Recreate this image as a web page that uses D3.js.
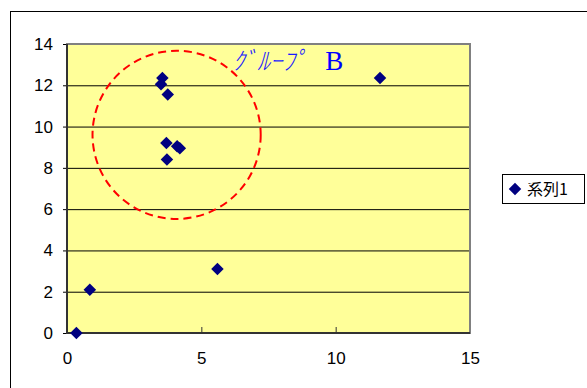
<!DOCTYPE html>
<html>
<head>
<meta charset="utf-8">
<script src="https://cdn.jsdelivr.net/npm/d3@7"></script>
<style>
  html, body { margin: 0; padding: 0; background: #fff; overflow: hidden; }
  svg { display: block; }
</style>
</head>
<body>
<svg id="chart" width="587" height="388"></svg>
<script>
// series values
const xValues = [0.35, 0.85, 5.6, 11.65, 3.55, 3.5, 3.75, 3.7, 4.1, 4.2, 3.72];
const yValues = [0.0, 2.1, 3.1, 12.35, 12.35, 12.05, 11.55, 9.2, 9.05, 8.95, 8.4];
const seriesName = "系列1";

const xTicks = [0, 5, 10, 15];
const yTicks = [0, 2, 4, 6, 8, 10, 12, 14];

// annotation: dashed circle round the cluster and its label
const groupCircle = { cx: 4.08, cy: 9.6, r: 3.13 };
const groupLabel = { kana: "ｸﾞﾙｰﾌﾟ", letter: "B", x: 6.15, y: 12.75 };

const margin = { left: 67, top: 44, right: 117, bottom: 55 };
const width = 587 - margin.left - margin.right;
const height = 388 - margin.top - margin.bottom;

const svgEl = d3.select("#chart");

// outer chart frame
svgEl.append("rect")
  .attr("x", 10.5).attr("y", 11.5)
  .attr("width", 620).attr("height", 420)
  .attr("fill", "#fff")
  .attr("stroke", "#000")
  .attr("stroke-width", 1);

const svg = svgEl.append("g")
  .attr("transform", `translate(${margin.left},${margin.top})`);

const xScale = d3.scaleLinear().domain([0, 15]).range([0, width]);
const yScale = d3.scaleLinear().domain([0, 14]).range([height, 0]);

// plot background
svg.append("rect")
  .attr("width", width).attr("height", height)
  .attr("fill", "#ffff99");

// Y grid lines with labels
const yAxis = d3.axisLeft(yScale)
  .tickValues(yTicks)
  .tickSize(-width)
  .tickFormat(d3.format("d"));
const yAxisGroup = svg.append("g").call(yAxis);
yAxisGroup.select(".domain").remove();
yAxisGroup.selectAll("line")
  .attr("stroke", "#000")
  .attr("x1", -4)
  .attr("stroke-width", 1);
yAxisGroup.selectAll("text")
  .attr("x", -14)
  .attr("fill", "#000")
  .attr("font-family", "'Liberation Sans', Arial, sans-serif")
  .attr("font-size", "17px");

// X axis with inward ticks
const xAxis = d3.axisBottom(xScale)
  .tickValues(xTicks)
  .tickSize(-6)
  .tickFormat(d3.format("d"));
const xAxisGroup = svg.append("g")
  .attr("transform", `translate(0,${height})`)
  .call(xAxis);
xAxisGroup.select(".domain").remove();
xAxisGroup.selectAll("line").attr("stroke", "#333");
xAxisGroup.selectAll("text")
  .attr("y", 19)
  .attr("fill", "#000")
  .attr("font-family", "'Liberation Sans', Arial, sans-serif")
  .attr("font-size", "17px");

// plot border
svg.append("rect")
  .attr("width", width).attr("height", height)
  .attr("fill", "none")
  .attr("stroke", "#808080")
  .attr("stroke-width", 2);
svg.append("path")
  .attr("d", `M0,0V${height}H${width}`)
  .attr("fill", "none")
  .attr("stroke", "#333")
  .attr("stroke-width", 2);

// Draw the points as diamonds
const points = xValues.map((x, i) => ({ x, y: yValues[i] }));
const diamond = d3.symbol().type(d3.symbolDiamond2).size(100);
svg.selectAll(".pt")
  .data(points)
  .enter()
  .append("path")
  .attr("class", "pt")
  .attr("d", diamond)
  .attr("transform", (d) => `translate(${xScale(d.x)},${yScale(d.y)})`)
  .attr("fill", "#000080");

// dashed circle annotation
svg.append("circle")
  .attr("cx", xScale(groupCircle.cx))
  .attr("cy", yScale(groupCircle.cy))
  .attr("r", xScale(groupCircle.r) - xScale(0))
  .attr("fill", "none")
  .attr("stroke", "#ff0000")
  .attr("stroke-width", 2)
  .attr("stroke-dasharray", "8,5");

const label = svg.append("text")
  .attr("x", xScale(groupLabel.x))
  .attr("y", yScale(groupLabel.y))
  .attr("fill", "#1a1aff");
label.append("tspan")
  .attr("font-family", "'Noto Sans CJK JP', sans-serif")
  .attr("font-style", "italic")
  .attr("font-weight", 300)
  .attr("font-size", "25px")
  .text(groupLabel.kana);
label.append("tspan")
  .attr("dx", 18)
  .attr("font-family", "'Liberation Serif', 'Times New Roman', serif")
  .attr("font-size", "27px")
  .attr("fill", "#0000ff")
  .text(groupLabel.letter);

// legend
const legend = svgEl.append("g").attr("transform", "translate(502,174)");
legend.append("rect")
  .attr("x", 0.5).attr("y", 0.5)
  .attr("width", 82).attr("height", 29)
  .attr("fill", "#fff")
  .attr("stroke", "#000");
legend.append("path")
  .attr("d", diamond)
  .attr("transform", "translate(13,15)")
  .attr("fill", "#000080");
legend.append("text")
  .attr("x", 25).attr("y", 21)
  .attr("font-family", "'Noto Sans CJK JP', sans-serif")
  .attr("font-size", "16px")
  .attr("fill", "#000")
  .text(seriesName);
</script>
</body>
</html>
